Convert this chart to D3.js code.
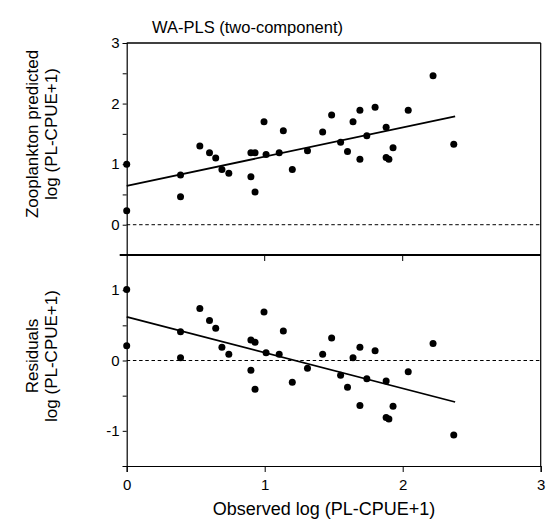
<!DOCTYPE html>
<html>
<head>
<meta charset="utf-8">
<script src="https://cdn.jsdelivr.net/npm/d3@7"></script>
<style>
  body { margin: 0; background: #fff; }
  text { font-family: "Liberation Sans", Arial, sans-serif; fill: #000; }
</style>
</head>
<body>
<div id="chart"></div>
<script>
// observed log (PL-CPUE+1)
const observed = [0, 0, 0.39, 0.39, 0.53, 0.60, 0.645, 0.69, 0.74, 0.90, 0.93, 0.90, 0.93,
  0.995, 1.01, 1.105, 1.135, 1.20, 1.31, 1.42, 1.485, 1.55, 1.60, 1.64, 1.69, 1.69,
  1.74, 1.80, 1.88, 1.88, 1.90, 1.93, 2.04, 2.22, 2.37];
// zooplankton predicted
const predicted = [1.00, 0.23, 0.82, 0.46, 1.30, 1.19, 1.10, 0.91, 0.85, 1.19, 1.19, 0.79, 0.54,
  1.70, 1.16, 1.19, 1.55, 0.91, 1.22, 1.53, 1.81, 1.36, 1.21, 1.70, 1.89, 1.08,
  1.47, 1.94, 1.61, 1.11, 1.08, 1.27, 1.89, 2.46, 1.33];
// residuals
const residuals = [1.01, 0.21, 0.41, 0.04, 0.74, 0.57, 0.46, 0.19, 0.09, 0.29, 0.26, -0.14, -0.41,
  0.69, 0.11, 0.09, 0.42, -0.31, -0.11, 0.09, 0.32, -0.21, -0.38, 0.04, 0.19, -0.64,
  -0.26, 0.14, -0.29, -0.81, -0.83, -0.65, -0.16, 0.24, -1.06];
// fitted lines (end points)
const fitX = [0, 2.38];
const fitTop = [0.64, 1.79];
const fitRes = [0.62, -0.59];

const xTicks = [0, 1, 2, 3];
const topTicks = [0, 0.5, 1, 1.5, 2, 2.5, 3];
const botTicks = [-1.5, -1, -0.5, 0, 0.5, 1];

const W = 547, H = 527;
const svg = d3.select("#chart").append("svg")
  .attr("width", W).attr("height", H);

const x = d3.scaleLinear().domain([0, 3]).range([126.7, 540.7]);
const yTop = d3.scaleLinear().domain([-0.5, 3]).range([255, 43]);
const yBot = d3.scaleLinear().domain([-1.5, 1.5]).range([466, 255]);

const fmt = d => Number.isInteger(d) ? String(d) : "";

// left axes
svg.append("g")
  .attr("transform", `translate(${x(0)},0)`)
  .call(d3.axisLeft(yTop).tickValues(topTicks).tickSize(4).tickPadding(3).tickFormat(fmt));
svg.append("g")
  .attr("transform", `translate(${x(0)},0)`)
  .call(d3.axisLeft(yBot).tickValues(botTicks).tickSize(4).tickPadding(3).tickFormat(fmt));

// bottom axis
svg.append("g")
  .attr("transform", `translate(0,${yBot(-1.5)})`)
  .call(d3.axisBottom(x).tickValues(xTicks).tickSize(6).tickPadding(7).tickFormat(d3.format("d")));

svg.selectAll(".domain").attr("stroke", "#000").attr("stroke-width", 1.2);
svg.selectAll(".tick line").attr("stroke", "#000");
svg.selectAll(".tick text").attr("font-size", 15);

// frame lines
svg.append("line")
  .attr("x1", x(0)).attr("x2", x(3)).attr("y1", yTop(3)).attr("y2", yTop(3))
  .attr("stroke", "#000").attr("stroke-width", 1.5);
svg.append("line")
  .attr("x1", x(3)).attr("x2", x(3)).attr("y1", yTop(3)).attr("y2", yBot(-1.5))
  .attr("stroke", "#000").attr("stroke-width", 1.2);
// separator between panels
svg.append("line")
  .attr("x1", x(0) - 7).attr("x2", x(3)).attr("y1", yTop(-0.5)).attr("y2", yTop(-0.5))
  .attr("stroke", "#000").attr("stroke-width", 2);
// small inner ticks on separator
svg.selectAll(".septick").data([1, 2]).enter().append("line")
  .attr("x1", d => x(d)).attr("x2", d => x(d))
  .attr("y1", yTop(-0.5)).attr("y2", yTop(-0.5) + 6)
  .attr("stroke", "#000").attr("stroke-width", 1);

// dashed zero lines
svg.append("line")
  .attr("x1", x(0)).attr("x2", x(3)).attr("y1", yTop(0)).attr("y2", yTop(0))
  .attr("stroke", "#000").attr("stroke-dasharray", "3.5,2.7");
svg.append("line")
  .attr("x1", x(0)).attr("x2", x(3)).attr("y1", yBot(0)).attr("y2", yBot(0))
  .attr("stroke", "#000").attr("stroke-dasharray", "3.5,2.7");

// regression lines
const lineTop = d3.line().x((d, i) => x(fitX[i])).y(d => yTop(d));
const lineBot = d3.line().x((d, i) => x(fitX[i])).y(d => yBot(d));
svg.append("path").attr("d", lineTop(fitTop))
  .attr("fill", "none").attr("stroke", "#000").attr("stroke-width", 1.8);
svg.append("path").attr("d", lineBot(fitRes))
  .attr("fill", "none").attr("stroke", "#000").attr("stroke-width", 1.8);

// points
svg.append("g").selectAll("circle")
  .data(observed).enter().append("circle")
  .attr("cx", d => x(d))
  .attr("cy", (d, i) => yTop(predicted[i]))
  .attr("r", 3.5).attr("fill", "#000");
svg.append("g").selectAll("circle")
  .data(observed).enter().append("circle")
  .attr("cx", d => x(d))
  .attr("cy", (d, i) => yBot(residuals[i]))
  .attr("r", 3.5).attr("fill", "#000");

// titles
svg.append("text")
  .attr("x", 152).attr("y", 33)
  .attr("font-size", 16.5)
  .text("WA-PLS (two-component)");

svg.append("text")
  .attr("x", 324).attr("y", 515)
  .attr("text-anchor", "middle").attr("font-size", 18)
  .text("Observed log (PL-CPUE+1)");

const ylab = [
  { cy: 134, lines: ["Zooplankton predicted", "log (PL-CPUE+1)"] },
  { cy: 356, lines: ["Residuals", "log (PL-CPUE+1)"] }
];
ylab.forEach(l => {
  const t = svg.append("text")
    .attr("transform", `translate(38,${l.cy}) rotate(-90)`)
    .attr("text-anchor", "middle").attr("font-size", 17);
  l.lines.forEach((s, i) => {
    t.append("tspan").attr("x", 0).attr("dy", i === 0 ? 0 : 19).text(s);
  });
});
</script>
</body>
</html>
